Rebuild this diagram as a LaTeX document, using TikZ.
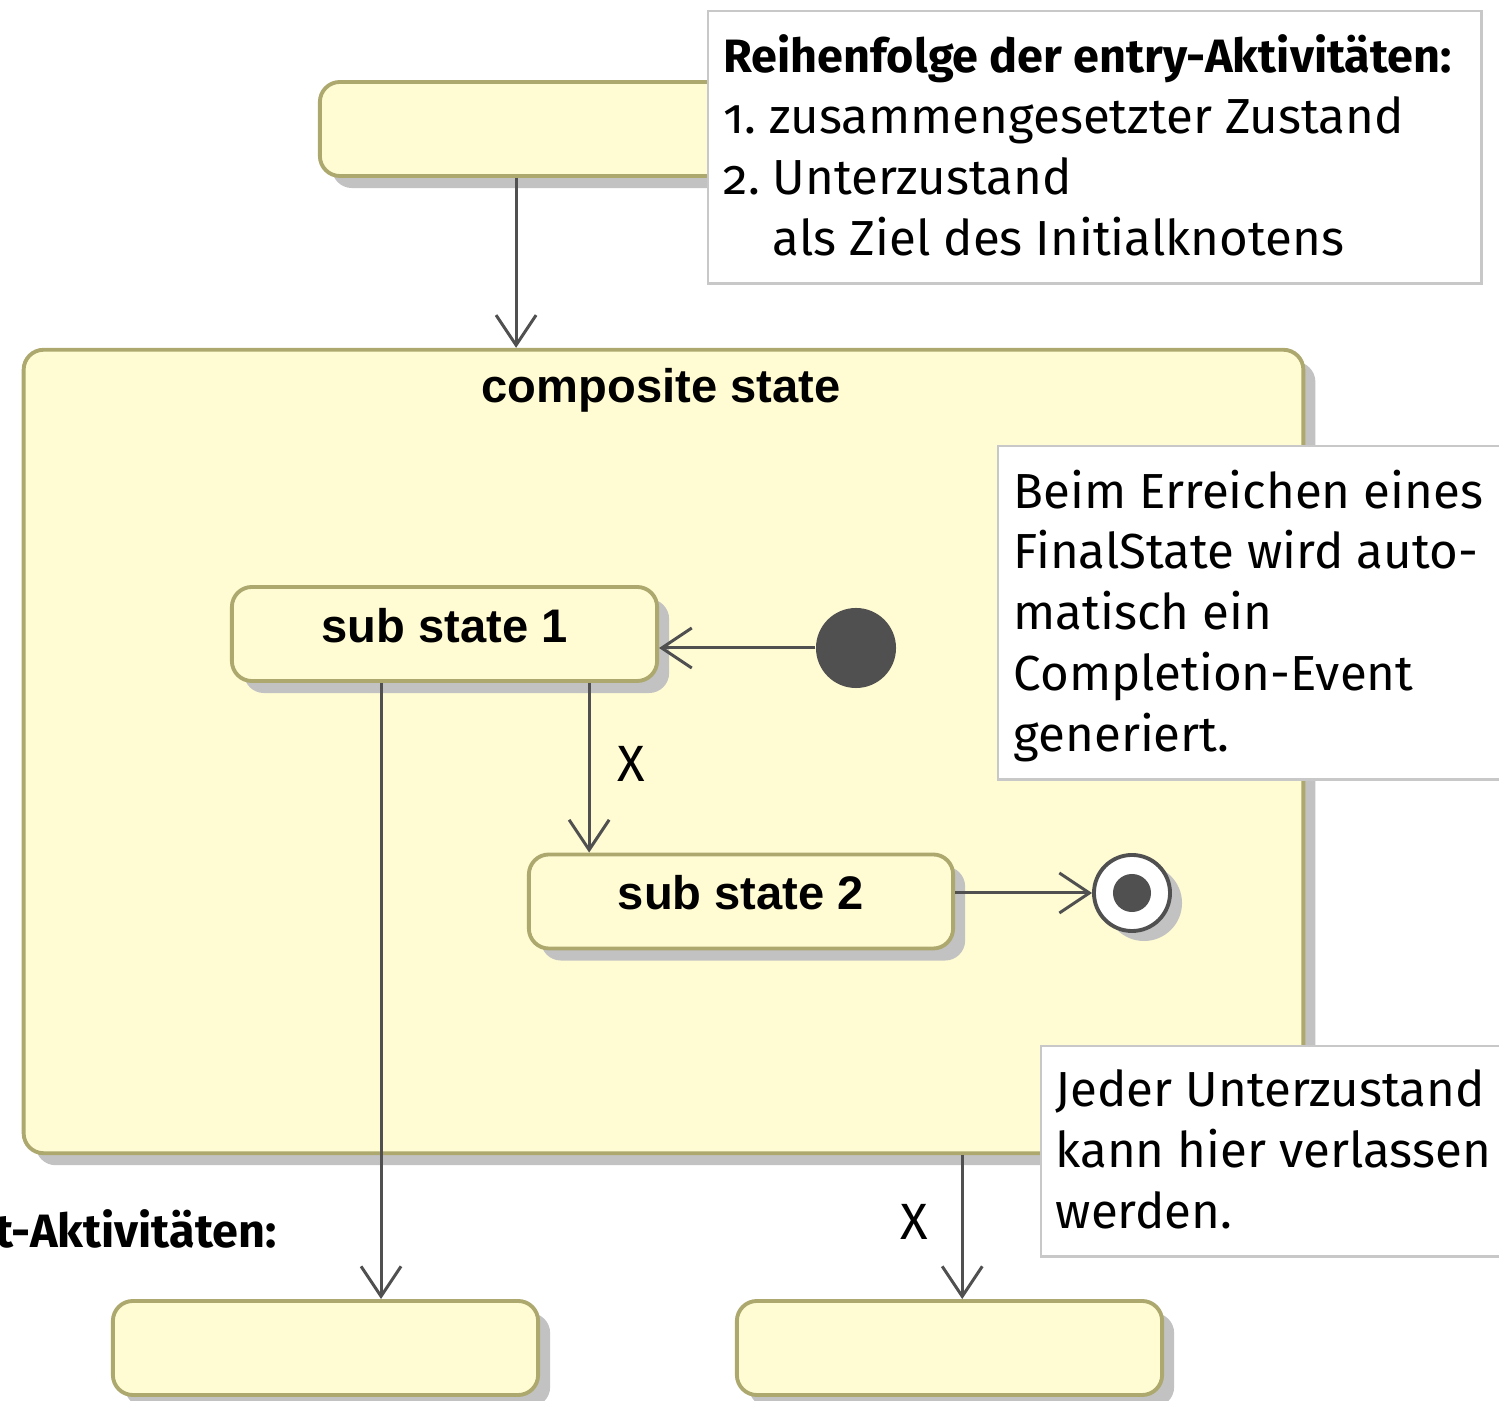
\documentclass[tikz,border=0pt]{standalone}
\usepackage{fontspec}
\setmainfont{Fira Sans}[Numbers=OldStyle]
\setsansfont{Liberation Sans}
\usetikzlibrary{arrows.meta,shadows}

\definecolor{statefill}{RGB}{255,252,212}
\definecolor{stateline}{RGB}{173,168,110}
\definecolor{shadowgray}{RGB}{194,194,194}
\definecolor{edgegray}{RGB}{80,80,80}
\definecolor{notegray}{RGB}{200,200,200}

\newcommand{\notehead}{\bfseries\fontsize{13.3}{17.3}\selectfont}

\begin{document}
\begin{tikzpicture}[x=0.01cm,y=-0.01cm,
  state/.style={draw=stateline,fill=statefill,line width=1.1pt,rounded corners=0.2cm,
    minimum height=0.94cm,inner sep=0pt,text depth=0.18cm,
    font=\sffamily\bfseries\fontsize{13.4}{16}\selectfont,
    drop shadow={shadow xshift=0.12cm,shadow yshift=-0.12cm,fill=shadowgray,opacity=1}},
  trans/.style={draw=edgegray,line width=0.85pt,
    -{Straight Barb[length=0.3cm,width=0.4cm,line width=0.85pt]}},
  guard/.style={font=\fontsize{14.5}{18}\selectfont,inner sep=0pt},
  note/.style={draw=notegray,fill=white,line width=0.7pt,inner sep=0pt,anchor=north west},
  notetext/.style={anchor=north west,align=left,inner sep=0pt,
    font=\fontsize{14}{17.3}\selectfont}]
  \useasboundingbox (0,0) rectangle (1499,1401);

  % entry state and composite state
  \node[state,minimum width=4.4cm] (entry) at (540,129) {};
  \node[state,minimum width=12.79cm,minimum height=8.03cm,text depth=0pt] (comp) at (663.5,751.5) {};
  \node[anchor=base,font=\sffamily\bfseries\fontsize{13.4}{16}\selectfont] (comptitle) at (661,403) {composite state};
  \coordinate (entryout) at ([xshift=1.98cm]entry.south west);
  \draw[trans] (entryout) -- (entryout |- comp.north);

  % sub states
  \node[state,minimum width=4.25cm] (sub1) at (444.5,634) {sub state 1};
  \node[state,minimum width=4.24cm] (sub2) at (741,901.5) {sub state 2};
  \node[circle,fill=edgegray,minimum size=0.8cm,inner sep=0pt] (init) at (856,648) {};
  \node[circle,draw=edgegray,fill=white,line width=1.1pt,minimum size=0.76cm,inner sep=0pt,
    drop shadow={shadow xshift=0.12cm,shadow yshift=-0.1cm,fill=shadowgray,opacity=1}] (final) at (1132,893) {};
  \node[circle,fill=edgegray,minimum size=0.38cm,inner sep=0pt] (finaldot) at (final) {};

  \draw[trans] (init) -- (init -| sub1.east);
  \coordinate (sub1x) at ([xshift=3.59cm]sub1.south west);
  \draw[trans] (sub1x) -- (sub1x |- sub2.north) node[guard,midway,right=0.27cm,yshift=0.04cm] (gx1) {X};
  \draw[trans] (final -| sub2.east) -- (final.west);

  % exit states
  \node[state,minimum width=4.25cm] (exitl) at (325.5,1348) {};
  \node[state,minimum width=4.25cm] (exitr) at (949.5,1348) {};
  \coordinate (sub1out) at ([xshift=1.51cm]sub1.south west);
  \draw[trans] (sub1out) -- (sub1out |- exitl.north);
  \coordinate (compout) at ([xshift=9.40cm]comp.south west);
  \draw[trans] (compout) -- (compout |- exitr.north) node[guard,midway,left=0.33cm,yshift=0.05cm] (gx2) {X};

  % notes
  \node[note,minimum width=7.73cm,minimum height=2.72cm] (ordernote) at (707,10) {};
  \node[notetext] (ordertext) at (723,34) {{\notehead Reihenfolge der entry-Aktivitäten:}\\
    1.\ zusammengesetzter Zustand\\
    2.\ Unterzustand\\
    \phantom{2.\ }als Ziel des Initialknotens};
  \node[note,minimum width=6cm,minimum height=3.33cm] (finalnote) at (997,445) {};
  \node[notetext] (finaltext) at (1013,469) {Beim Erreichen eines\\
    FinalState wird auto-\\
    matisch ein\\
    Completion-Event\\
    generiert.};
  \node[note,minimum width=5cm,minimum height=2.1cm] (leavenote) at (1040,1045) {};
  \node[notetext] (leavetext) at (1055,1069) {Jeder Unterzustand\\
    kann hier verlassen\\
    werden.};
  \node[anchor=base east,inner sep=0pt,font=\notehead] (exittext) at (277,1248) {t-Aktivitäten:};
\end{tikzpicture}
\end{document}
